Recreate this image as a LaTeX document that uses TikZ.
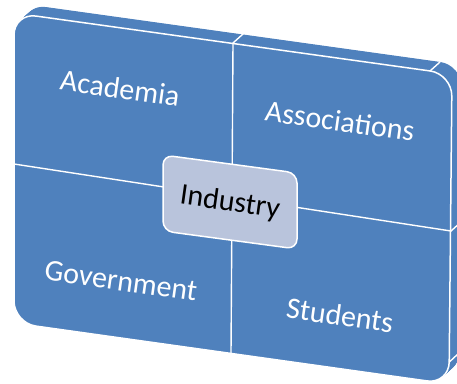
\documentclass[tikz,border=0pt]{standalone}
\usepackage{fontspec}
\setmainfont{Carlito}
\definecolor{slab}{HTML}{4F81BD}
\definecolor{hub}{HTML}{B9C4DC}
\begin{document}
\begin{tikzpicture}[x=1pt,y=-1pt,
  face/.style={rounded corners=22pt},
  lbl/.style={text=white, font=\fontsize{30}{36}\selectfont, rotate=-8, inner sep=0pt},
  hublbl/.style={text=black, font=\fontsize{30}{36}\selectfont, rotate=-8, inner sep=0pt},
  crease/.style={draw=white, line width=1.4pt, line cap=round}]
\useasboundingbox (0,0) rectangle (457,383);
\clip (0,0) rectangle (457,383);
% depth of the slab: the front outline swept back and up
\foreach \t in {0,0.5,...,10} {
  \fill[slab, face, shift={(\t,-0.9*\t)}] (14,13) -- (452,74) -- (449,384) -- (14,323) -- cycle;
}
% front face
\draw[fill=slab, draw=white, line width=1.5pt, face] (14,13) -- (452,74) -- (449,384) -- (14,323) -- cycle;
% quadrant dividers
\draw[crease] (14,164) -- (451,231);
\draw[crease] (233,43) -- (231,353);
% edges running over the top and right sides
\draw[crease] (233,43) -- (243,34);
\draw[crease] (451,231) -- (461,222);
\draw[crease] (430,71) -- (440,62);
\draw[crease] (449.3,362) -- (459,353);
% central box
\draw[fill=hub, draw=white, line width=1.5pt, rounded corners=10pt] (163,155) -- (297,173) -- (297,249) -- (163,231) -- cycle;
% labels
\node[lbl] (academia) at (120,88) {Academia};
\node[lbl] (associations) at (340,121) {Associations};
\node[lbl] (government) at (121,281) {Government};
\node[lbl] (students) at (340,315) {Students};
\node[hublbl] (industry) at (230,203) {Industry};
\end{tikzpicture}
\end{document}
